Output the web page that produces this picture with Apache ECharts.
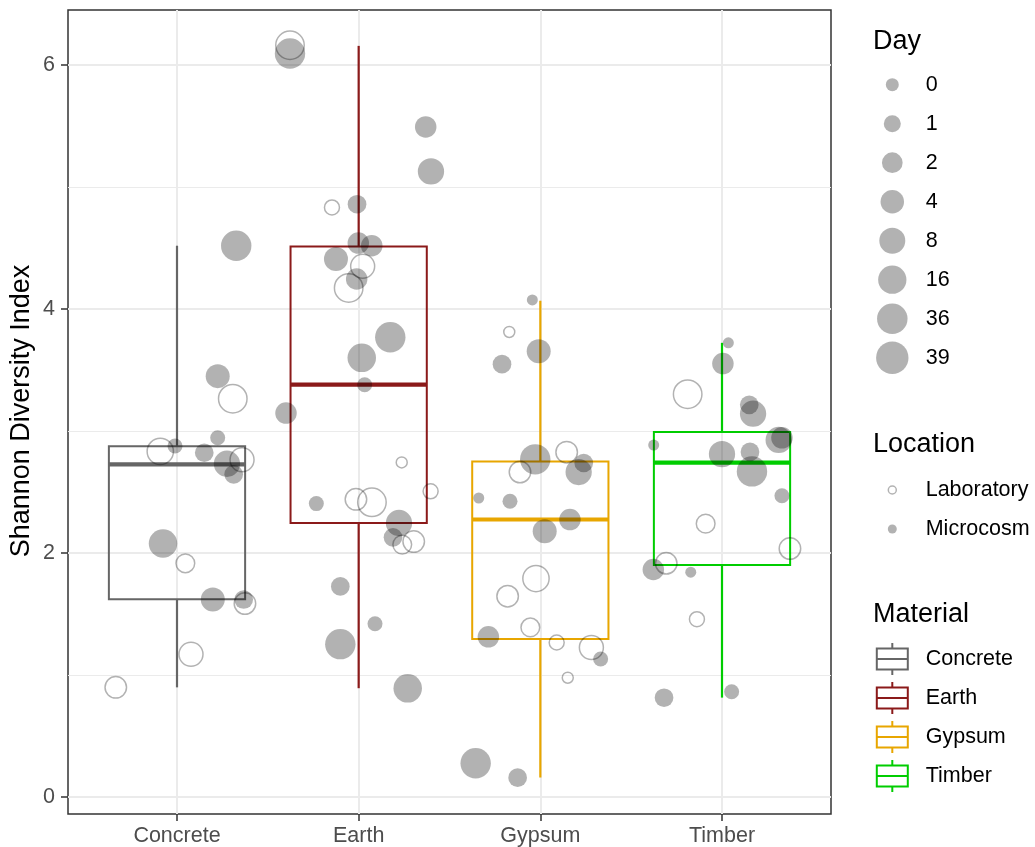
<!DOCTYPE html>
<html>
<head>
<meta charset="utf-8">
<script src="https://cdn.jsdelivr.net/npm/echarts@6/dist/echarts.min.js"></script>
<style>
html,body{margin:0;padding:0;background:#fff;}
#chart{width:1035px;height:847px;}
</style>
</head>
<body>
<div id="chart"></div>
<script>
// ---------- data ----------
const materials = ['Concrete', 'Earth', 'Gypsum', 'Timber'];
const dayLevels = [0, 1, 2, 4, 8, 16, 36, 39];
const locationLevels = ['Laboratory', 'Microcosm'];
const yTickValues = [0, 2, 4, 6];
const yMinorValues = [1, 3, 5];
const yTitle = 'Shannon Diversity Index';

// box statistics per material: [lower whisker, Q1, median, Q3, upper whisker]
const concreteBox = [0.898, 1.620, 2.725, 2.874, 4.518];
const earthBox    = [0.891, 2.246, 3.379, 4.511, 6.156];
const gypsumBox   = [0.159, 1.294, 2.274, 2.750, 4.067];
const timberBox   = [0.814, 1.900, 2.740, 2.991, 3.722];

// jittered points: [x position (category units), Shannon index, Day, Location]
const concretePts = [
  [1.326, 4.518, 39, 'Microcosm'], [1.224, 3.449, 8, 'Microcosm'], [1.307, 3.264, 36, 'Laboratory'],
  [1.224, 2.944, 1, 'Microcosm'], [0.908, 2.832, 16, 'Laboratory'], [0.989, 2.876, 1, 'Microcosm'],
  [1.150, 2.821, 2, 'Microcosm'], [1.275, 2.731, 16, 'Microcosm'], [1.312, 2.644, 2, 'Microcosm'],
  [1.358, 2.764, 8, 'Laboratory'], [0.923, 2.077, 36, 'Microcosm'], [1.046, 1.915, 2, 'Laboratory'],
  [1.197, 1.618, 8, 'Microcosm'], [1.367, 1.618, 2, 'Microcosm'], [1.374, 1.585, 4, 'Laboratory'],
  [1.077, 1.170, 8, 'Laboratory'], [0.663, 0.898, 4, 'Laboratory']
];
const earthPts = [
  [1.622, 6.161, 36, 'Laboratory'], [1.622, 6.093, 39, 'Microcosm'], [2.369, 5.492, 4, 'Microcosm'],
  [2.398, 5.127, 16, 'Microcosm'], [1.853, 4.832, 1, 'Laboratory'], [1.991, 4.858, 2, 'Microcosm'],
  [1.998, 4.540, 4, 'Microcosm'], [2.072, 4.518, 4, 'Microcosm'], [1.875, 4.409, 8, 'Microcosm'],
  [2.022, 4.350, 8, 'Laboratory'], [1.989, 4.245, 4, 'Microcosm'], [1.945, 4.172, 36, 'Laboratory'],
  [2.174, 3.768, 39, 'Microcosm'], [2.017, 3.599, 36, 'Microcosm'], [2.033, 3.378, 1, 'Microcosm'],
  [1.600, 3.146, 4, 'Microcosm'], [2.237, 2.742, 0, 'Laboratory'], [2.396, 2.505, 1, 'Laboratory'],
  [1.767, 2.404, 1, 'Microcosm'], [1.985, 2.439, 4, 'Laboratory'], [2.073, 2.415, 36, 'Laboratory'],
  [2.222, 2.245, 16, 'Microcosm'], [2.189, 2.128, 2, 'Microcosm'], [2.240, 2.068, 2, 'Laboratory'],
  [2.303, 2.093, 4, 'Laboratory'], [1.899, 1.725, 2, 'Microcosm'], [2.090, 1.419, 1, 'Microcosm'],
  [1.899, 1.252, 39, 'Microcosm'], [2.270, 0.890, 36, 'Microcosm']
];
const gypsumPts = [
  [2.956, 4.074, 0, 'Microcosm'], [2.829, 3.811, 0, 'Laboratory'], [2.991, 3.653, 8, 'Microcosm'],
  [2.789, 3.547, 2, 'Microcosm'], [2.972, 2.767, 39, 'Microcosm'], [2.888, 2.663, 4, 'Laboratory'],
  [3.145, 2.826, 4, 'Laboratory'], [3.239, 2.737, 2, 'Microcosm'], [3.211, 2.663, 16, 'Microcosm'],
  [2.661, 2.450, 0, 'Microcosm'], [2.833, 2.423, 1, 'Microcosm'], [3.163, 2.273, 4, 'Microcosm'],
  [3.024, 2.177, 8, 'Microcosm'], [2.976, 1.790, 16, 'Laboratory'], [2.820, 1.645, 4, 'Laboratory'],
  [2.945, 1.389, 2, 'Laboratory'], [2.714, 1.312, 4, 'Microcosm'], [3.090, 1.266, 1, 'Laboratory'],
  [3.281, 1.225, 8, 'Laboratory'], [3.332, 1.130, 1, 'Microcosm'], [3.151, 0.977, 0, 'Laboratory'],
  [2.644, 0.276, 39, 'Microcosm'], [2.875, 0.158, 2, 'Microcosm']
];
const timberPts = [
  [4.035, 3.722, 0, 'Microcosm'], [4.005, 3.552, 4, 'Microcosm'], [3.811, 3.301, 36, 'Laboratory'],
  [4.150, 3.214, 2, 'Microcosm'], [4.171, 3.141, 16, 'Microcosm'], [4.312, 2.926, 16, 'Microcosm'],
  [4.330, 2.943, 4, 'Microcosm'], [3.624, 2.884, 0, 'Microcosm'], [4.000, 2.810, 16, 'Microcosm'],
  [4.154, 2.828, 2, 'Microcosm'], [4.165, 2.668, 39, 'Microcosm'], [4.330, 2.469, 1, 'Microcosm'],
  [3.910, 2.240, 2, 'Laboratory'], [4.374, 2.036, 4, 'Laboratory'], [3.693, 1.915, 4, 'Laboratory'],
  [3.622, 1.864, 4, 'Microcosm'], [3.828, 1.842, 0, 'Microcosm'], [3.862, 1.457, 1, 'Laboratory'],
  [3.681, 0.813, 2, 'Microcosm'], [4.053, 0.862, 1, 'Microcosm']
];

// ---------- styles ----------
const FONT = "'Liberation Sans', Arial, Helvetica, sans-serif";
const materialColors = ['#666666', '#8B1A1A', '#E8A600', '#00CD00'];
const daySizes = [11, 15, 18.7, 21.5, 24, 26.3, 28.5, 30.4];
const pointColor = 'rgba(0,0,0,0.3)';
const boxWidth = 0.75;

const boxes = [concreteBox, earthBox, gypsumBox, timberBox];
const boxData = boxes.map((b, i) => [i + 1].concat(b));
const allPts = [].concat(concretePts, earthPts, gypsumPts, timberPts);
const sizeOf = d => daySizes[dayLevels.indexOf(d)];

const labData = allPts.filter(p => p[3] === 'Laboratory').map(p => [p[0], p[1], p[2]]);
const micData = allPts.filter(p => p[3] === 'Microcosm').map(p => [p[0], p[1], p[2]]);

// ---------- legend + axis title (graphic) ----------
const legendKeyX = 892.3, legendLabelX = 925.7, legendTitleX = 873, step = 39;
const graphics = [];
graphics.push({type: 'text', x: 21.5, y: 411, rotation: Math.PI / 2, silent: true,
  style: {text: yTitle, fontSize: 27, fontFamily: FONT, fill: '#000', align: 'center', verticalAlign: 'middle'}});
function title(t, y) {
  graphics.push({type: 'text', x: legendTitleX, y: y, silent: true,
    style: {text: t, fontSize: 27, fontFamily: FONT, fill: '#000', align: 'left', verticalAlign: 'middle'}});
}
function label(t, y) {
  graphics.push({type: 'text', x: legendLabelX, y: y, silent: true,
    style: {text: t, fontSize: 21.5, fontFamily: FONT, fill: '#000', align: 'left', verticalAlign: 'middle'}});
}
title('Day', 42);
dayLevels.forEach((d, i) => {
  const y = 84.7 + i * step;
  graphics.push({type: 'circle', silent: true, shape: {cx: legendKeyX, cy: y, r: (sizeOf(d) + 2) / 2},
    style: {fill: pointColor}});
  label(String(d), y);
});
title('Location', 445);
locationLevels.forEach((l, i) => {
  const y = 490 + i * step;
  if (l === 'Laboratory') {
    graphics.push({type: 'circle', silent: true, shape: {cx: legendKeyX, cy: y, r: 4},
      style: {fill: 'none', stroke: pointColor, lineWidth: 1.5}});
  } else {
    graphics.push({type: 'circle', silent: true, shape: {cx: legendKeyX, cy: y, r: 4.5},
      style: {fill: pointColor}});
  }
  label(l, y);
});
title('Material', 615);
materials.forEach((m, i) => {
  const y = 659 + i * step;
  const c = materialColors[i];
  graphics.push({type: 'line', silent: true, shape: {x1: legendKeyX, y1: y - 16, x2: legendKeyX, y2: y - 10.5},
    style: {stroke: c, lineWidth: 2}});
  graphics.push({type: 'line', silent: true, shape: {x1: legendKeyX, y1: y + 10.5, x2: legendKeyX, y2: y + 16},
    style: {stroke: c, lineWidth: 2}});
  graphics.push({type: 'rect', silent: true, shape: {x: legendKeyX - 15.5, y: y - 10.5, width: 31, height: 21},
    style: {fill: 'none', stroke: c, lineWidth: 2}});
  graphics.push({type: 'line', silent: true, shape: {x1: legendKeyX - 15.5, y1: y, x2: legendKeyX + 15.5, y2: y},
    style: {stroke: c, lineWidth: 2}});
  label(m, y);
});

// ---------- chart ----------
const chart = echarts.init(document.getElementById('chart'), null, {renderer: 'canvas'});
const option = {
  animation: false,
  backgroundColor: '#ffffff',
  textStyle: {fontFamily: FONT},
  grid: {
    left: 68, right: 204, top: 10, bottom: 33,
    show: true, borderColor: '#333333', borderWidth: 1.5, backgroundColor: 'transparent',
    containLabel: false, outerBoundsMode: 'none'
  },
  xAxis: {
    type: 'value', min: 0.4, max: 4.6,
    axisLine: {show: false, onZero: false},
    axisTick: {show: true, length: 7, customValues: [1, 2, 3, 4], lineStyle: {color: '#333333', width: 1.5}},
    axisLabel: {customValues: [1, 2, 3, 4], formatter: v => materials[Math.round(v) - 1],
      color: '#4D4D4D', fontSize: 21.5, fontFamily: FONT, margin: 11},
    splitLine: {show: true, lineStyle: {color: '#EBEBEB', width: 2}}
  },
  yAxis: [{
    type: 'value', min: -0.14, max: 6.45,
    axisLine: {show: false, onZero: false},
    axisTick: {show: true, length: 7, customValues: yTickValues, lineStyle: {color: '#333333', width: 1.5}},
    axisLabel: {customValues: yTickValues, color: '#4D4D4D', fontSize: 21.5, fontFamily: FONT, margin: 13},
    splitLine: {show: true, lineStyle: {color: '#EBEBEB', width: 2}}
  }, {
    type: 'value', min: -0.14, max: 6.45, position: 'left',
    axisLine: {show: false, onZero: false},
    axisTick: {show: false, customValues: yMinorValues},
    axisLabel: {show: false},
    splitLine: {show: true, lineStyle: {color: '#EBEBEB', width: 1.2}}
  }],
  graphic: graphics,
  series: [{
    type: 'custom',
    data: boxData,
    encode: {x: 0, y: [1, 2, 3, 4, 5]},
    z: 2,
    silent: true,
    renderItem: function (params, api) {
      const x = api.value(0);
      const lo = api.coord([x, api.value(1)]);
      const q1 = api.coord([x, api.value(2)]);
      const md = api.coord([x, api.value(3)]);
      const q3 = api.coord([x, api.value(4)]);
      const hi = api.coord([x, api.value(5)]);
      const hw = api.size([boxWidth, 0])[0] / 2;
      const c = materialColors[params.dataIndex];
      return {type: 'group', children: [
        {type: 'line', shape: {x1: hi[0], y1: hi[1], x2: q3[0], y2: q3[1]}, style: {stroke: c, lineWidth: 2.2}},
        {type: 'line', shape: {x1: q1[0], y1: q1[1], x2: lo[0], y2: lo[1]}, style: {stroke: c, lineWidth: 2.2}},
        {type: 'rect', shape: {x: q3[0] - hw, y: q3[1], width: 2 * hw, height: q1[1] - q3[1]},
          style: {fill: 'none', stroke: c, lineWidth: 2}},
        {type: 'line', shape: {x1: md[0] - hw, y1: md[1], x2: md[0] + hw, y2: md[1]},
          style: {stroke: c, lineWidth: 4.2}}
      ]};
    }
  }, {
    name: 'Laboratory', type: 'scatter', z: 3, silent: true,
    data: labData,
    symbol: 'circle',
    symbolSize: v => sizeOf(v[2]),
    itemStyle: {color: 'rgba(0,0,0,0)', borderColor: pointColor, borderWidth: 1.5, opacity: 1}
  }, {
    name: 'Microcosm', type: 'scatter', z: 3, silent: true,
    data: micData,
    symbol: 'circle',
    symbolSize: v => sizeOf(v[2]),
    itemStyle: {color: pointColor, borderWidth: 0, opacity: 1}
  }]
};
chart.setOption(option);
</script>
</body>
</html>
